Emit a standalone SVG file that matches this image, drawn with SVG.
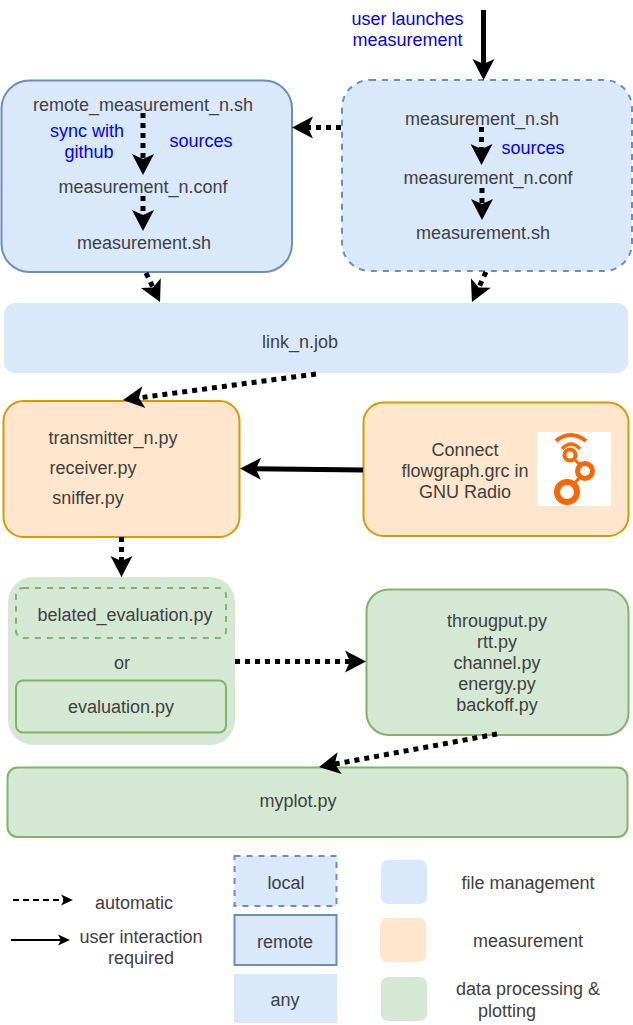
<svg xmlns="http://www.w3.org/2000/svg" width="633" height="1025" viewBox="0 0 633 1025">
<style>
text{font-family:"Liberation Sans",Arial,sans-serif;font-size:18px;fill:#404040;text-anchor:middle}
text.b{fill:#00f}
.blue{fill:#dae8fc;stroke:#6c8ebf;stroke-width:2}
.or{fill:#ffe6cc;stroke:#d79b00;stroke-width:2}
.gr{fill:#d5e8d4;stroke:#82b366;stroke-width:2}
.d{stroke-dasharray:6 6}
.auto{fill:none;stroke:#000;stroke-width:5;stroke-dasharray:5 5;marker-end:url(#big)}
.solid{fill:none;stroke:#000;stroke-width:5;marker-end:url(#big)}
.l{fill:none;stroke:#000;stroke-width:2}
.logo{fill:none;stroke:#f60}
</style>
<defs>
<marker id="big" markerUnits="userSpaceOnUse" markerWidth="24" markerHeight="24" viewBox="-1 -12 24 24" refX="6" refY="0" orient="auto"><path d="M0-11 21 0 0 11 5 0Z"/></marker>
<marker id="small" markerUnits="userSpaceOnUse" markerWidth="14" markerHeight="14" viewBox="-1 -7 14 14" refX="3" refY="0" orient="auto"><path d="M0-5.500 12 0 0 5.500 3 0Z"/></marker>
</defs>
<g id="remote"><rect class="blue" x="1.500" y="80.500" width="290.500" height="191.500" rx="28"/>
<text x="143" y="111">remote_measurement_n.sh</text><text x="143" y="193">measurement_n.conf</text><text x="144" y="249">measurement.sh</text>
<text class="b" x="87" y="137">sync with</text><text class="b" x="89" y="158">github</text><text class="b" x="201" y="147">sources</text></g>
<g id="local"><rect class="blue d" x="342" y="80" width="290" height="191" rx="28"/>
<text x="482" y="125">measurement_n.sh</text><text x="488" y="184">measurement_n.conf</text><text x="483" y="239">measurement.sh</text>
<text class="b" x="533" y="154">sources</text></g>
<g id="launch"><text class="b" x="407.500" y="25">user launches</text><text class="b" x="407.500" y="46">measurement</text></g>
<g id="link"><rect x="4" y="303" width="624" height="70" rx="11" fill="#dae8fc"/><text x="300" y="348">link_n.job</text></g>
<g id="transmitter"><rect class="or" x="3.500" y="401" width="236" height="136" rx="20"/>
<text x="113" y="444">transmitter_n.py</text><text x="93" y="474">receiver.py</text><text x="88" y="504">sniffer.py</text></g>
<g id="grc"><rect class="or" x="363.500" y="402.500" width="265" height="133.500" rx="20"/>
<text x="465" y="456">Connect</text><text x="465" y="477">flowgraph.grc in</text><text x="465" y="498">GNU Radio</text>
<rect x="537" y="432" width="74" height="74" fill="#fff"/>
<path class="logo" stroke-width="4" d="M556 441Q570 429 586 441"/><path class="logo" stroke-width="3.500" d="M562 449Q571 439 580 449"/>
<circle class="logo" stroke-width="4" cx="570" cy="455" r="5.500"/><circle class="logo" stroke-width="5" cx="585" cy="471" r="7.500"/><circle class="logo" stroke-width="6" cx="567" cy="492" r="10"/>
<path class="logo" stroke-width="3" d="M575 460 580 465M580 477 574 484"/></g>
<g id="eval"><rect x="8" y="577" width="227" height="168" rx="25" fill="#d5e8d4"/>
<rect class="gr d" x="16" y="588" width="210" height="50" rx="7"/><text x="125" y="621">belated_evaluation.py</text>
<text x="122" y="669">or</text>
<rect class="gr" x="16" y="680.500" width="210" height="52" rx="7"/><text x="121" y="713">evaluation.py</text></g>
<g id="scripts"><rect class="gr" x="366.500" y="589.500" width="262" height="145.500" rx="22"/>
<text x="497" y="627">througput.py</text><text x="497" y="648">rtt.py</text><text x="497" y="669">channel.py</text><text x="497" y="690">energy.py</text><text x="497" y="711">backoff.py</text></g>
<g id="myplot"><rect class="gr" x="7.500" y="767.500" width="620" height="69.500" rx="10"/><text x="298" y="807">myplot.py</text></g>
<g id="legend">
<text x="134" y="909">automatic</text><text x="141" y="943">user interaction</text><text x="141" y="964">required</text>
<rect class="blue d" x="234.500" y="856" width="102" height="50"/><text x="286" y="889">local</text>
<rect class="blue" x="234.500" y="915" width="102" height="50"/><text x="285" y="948">remote</text>
<rect x="234" y="974" width="103" height="49" fill="#dae8fc"/><text x="285" y="1006">any</text>
<rect x="381" y="860" width="46" height="44" rx="7" fill="#dae8fc"/><text x="528" y="889">file management</text>
<rect x="380" y="918" width="46" height="44" rx="7" fill="#ffe6cc"/><text x="528" y="947">measurement</text>
<rect x="381" y="977" width="46" height="44" rx="7" fill="#d5e8d4"/><text x="528" y="995">data processing &amp;</text><text x="507" y="1017">plotting</text>
</g>
<g id="connectors">
<path class="solid" d="M483.500 10V65"/>
<path class="auto" d="M341 127.500H307"/>
<path class="auto" d="M143 113V160"/>
<path class="auto" d="M143 196V216"/>
<path class="auto" d="M481.500 127V150"/>
<path class="auto" d="M482 188V205"/>
<path class="auto" d="M146 273 153.500 288.500"/>
<path class="auto" d="M486 272 478.300 288.400"/>
<path class="auto" d="M316 374 137.900 398"/>
<path class="solid" d="M363 470 255 468.700"/>
<path class="auto" d="M121.500 537V562"/>
<path class="auto" d="M235 661.500H351"/>
<path class="auto" d="M497 734 333.750 764.270"/>
<path class="l" stroke-dasharray="6 4" style="marker-end:url(#small)" d="M13 900H64"/>
<path class="l" style="marker-end:url(#small)" d="M11 940H61"/>
</g>
</svg>
